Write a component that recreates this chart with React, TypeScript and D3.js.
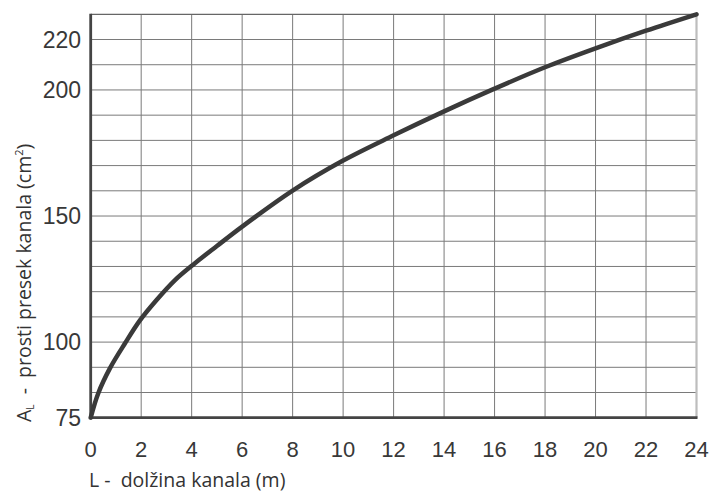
import React from "react";
import * as d3 from "d3";

const lengthM = [0, 0.3, 0.76, 1.36, 1.95, 2.61, 3.34, 4.13, 5, 6, 8, 10, 12, 14, 16, 18, 20, 22, 24];
const areaCm2 = [75, 83.1, 91.3, 99.6, 108.6, 116.7, 124.6, 131.3, 138.1, 145.8, 160.1, 172, 182, 191.5, 200.5, 209, 216.5, 223.5, 230];
const xTicks = [0, 2, 4, 6, 8, 10, 12, 14, 16, 18, 20, 22, 24];
const yTickLabels = [75, 100, 150, 200, 220];
const yGridValues = [75 + 25 / 3, 75 + 50 / 3, 100, 110, 120, 130, 140, 150, 160, 170, 180, 190, 200, 210, 220];

const W = 717;
const H = 492;

export default function App() {
  const x = d3.scaleLinear().domain([0, 24]).range([90.7, 696.5]);
  const y = d3.scaleLinear().domain([75, 100, 230]).range([417.7, 342.1, 14.3]);
  const line = d3
    .line<number>()
    .x((_, i) => x(lengthM[i]))
    .y((d) => y(d))
    .curve(d3.curveCatmullRom.alpha(0.5));

  const x0 = x(0), x1 = x(24), yb = y(75), yt = y(230);
  const tickFont = "'Liberation Sans', Arial, sans-serif";
  const titleFont = "'Open Sans', 'Noto Sans', sans-serif";

  return (
    <svg width={W} height={H} style={{ position: "absolute", left: 0, top: 0, background: "#fff" }}>
      {yGridValues.map((v) => (
        <line key={"h" + v} x1={x0} x2={x1} y1={y(v)} y2={y(v)} stroke="#7a7a7a" strokeWidth={1} />
      ))}
      {xTicks.slice(1, -1).map((v) => (
        <line key={"v" + v} x1={x(v)} x2={x(v)} y1={yt} y2={yb} stroke="#7a7a7a" strokeWidth={1} />
      ))}
      <line x1={x0} x2={x1} y1={yt} y2={yt} stroke="#666" strokeWidth={1.3} />
      <line x1={x1} x2={x1} y1={yt} y2={yb} stroke="#bdbdbd" strokeWidth={2.2} />
      <line x1={x0} x2={x0} y1={yt - 0.5} y2={yb + 1} stroke="#444" strokeWidth={2.8} />
      <line x1={x0 - 1} x2={x1 + 1} y1={yb} y2={yb} stroke="#444" strokeWidth={2.8} />

      <path d={line(areaCm2) || ""} fill="none" stroke="#3a3a3a" strokeWidth={4.5} strokeLinejoin="round" strokeLinecap="round" />

      {yTickLabels.map((v) => (
        <text key={"yl" + v} x={81} y={y(v)} dy="0.35em" textAnchor="end" fontFamily={tickFont} fontSize={23} fill="#383838">
          {v}
        </text>
      ))}
      {xTicks.map((v) => (
        <text key={"xl" + v} x={x(v)} y={457} textAnchor="middle" fontFamily={tickFont} fontSize={22} fill="#383838">
          {v}
        </text>
      ))}

      <text x={89} y={487} fontFamily={titleFont} fontSize={19.5} fill="#333" style={{ whiteSpace: "pre" }}>
        {"L -  dolžina kanala (m)"}
      </text>

      <text transform="translate(31,422) rotate(-90)" fontFamily={titleFont} fontSize={19.5} fill="#333" style={{ whiteSpace: "pre" }}>
        <tspan>A</tspan>
        <tspan dy={3} fontSize={10}>L</tspan>
        <tspan dy={-3}>{"  -  prosti presek kanala (cm"}</tspan>
        <tspan dy={-8} fontSize={11}>2</tspan>
        <tspan dy={8}>)</tspan>
      </text>
    </svg>
  );
}
